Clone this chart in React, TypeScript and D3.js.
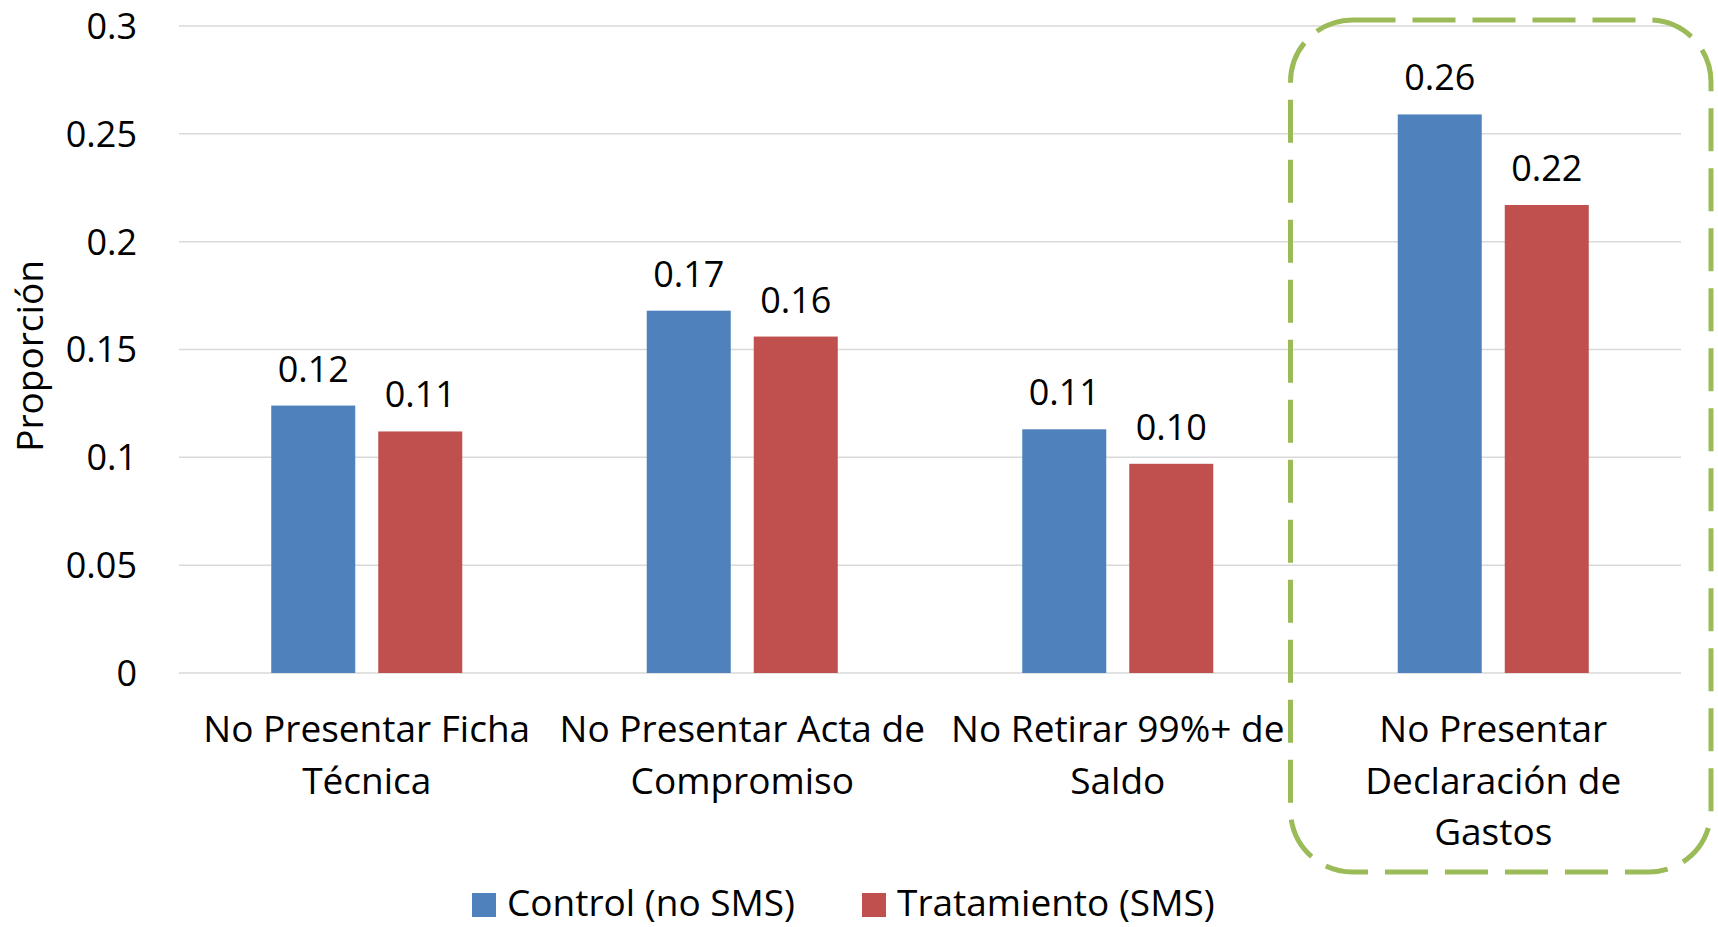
import React from 'react';
import * as d3 from 'd3';

const width = 1718;
const height = 927;

const margin = {
  top: 26,
  right: 37,
  bottom: 254,
  left: 179
};

// DATA ===========================================

const categories = [
  'No Presentar Ficha Técnica',
  'No Presentar Acta de Compromiso',
  'No Retirar 99%+ de Saldo',
  'No Presentar Declaración de Gastos'
];

// how the category labels wrap under the axis
const categoryLines = [
  ['No Presentar Ficha', 'Técnica'],
  ['No Presentar Acta de', 'Compromiso'],
  ['No Retirar 99%+ de', 'Saldo'],
  ['No Presentar', 'Declaración de', 'Gastos']
];

const seriesNames = ['Control (no SMS)', 'Tratamiento (SMS)'];
const controlValues = [0.124, 0.168, 0.113, 0.259];
const treatmentValues = [0.112, 0.156, 0.097, 0.217];

const yTicks = [0, 0.05, 0.1, 0.15, 0.2, 0.25, 0.3];
const yTickLabels = ['0', '0.05', '0.1', '0.15', '0.2', '0.25', '0.3'];

const highlighted = 'No Presentar Declaración de Gastos';

const colors = ['#4F81BD', '#C0504D'];
const font = "'Open Sans', 'Noto Sans', sans-serif";

const App = () => {
  const xScale = d3
    .scaleBand()
    .domain(categories)
    .range([margin.left, width - margin.right]);

  // two bars inside each category
  const innerScale = d3
    .scaleBand()
    .domain(seriesNames)
    .range([0, xScale.bandwidth()])
    .paddingInner(0.215)
    .paddingOuter(0.862);

  const yScale = d3
    .scaleLinear()
    .domain([0, 0.3])
    .range([height - margin.bottom, margin.top]);

  const fmt = d3.format('.2f');

  const bars = categories.flatMap((c, i) =>
    [controlValues[i], treatmentValues[i]].map((v, j) => ({
      key: c + j,
      x: xScale(c) + innerScale(seriesNames[j]),
      y: yScale(v),
      h: yScale(0) - yScale(v),
      fill: colors[j],
      label: fmt(v)
    }))
  );

  // dashed box around the last category
  const boxX = xScale(highlighted) - 15;
  const boxW = xScale.bandwidth() + 45;
  const boxY = margin.top - 6;
  const boxH = 852;

  const legendItems = [
    { name: seriesNames[0], x: 472, color: colors[0] },
    { name: seriesNames[1], x: 862, color: colors[1] }
  ];

  return (
    <svg
      width={width}
      height={height}
      style={{ position: 'absolute', left: 0, top: 0, background: '#fff' }}
      fontFamily={font}
    >
      {/* gridlines */}
      {yTicks.map(t => (
        <line
          key={t}
          x1={margin.left}
          x2={width - margin.right}
          y1={yScale(t)}
          y2={yScale(t)}
          stroke="#D9D9D9"
          strokeWidth={1.5}
        />
      ))}
      {yTicks.map((t, i) => (
        <text
          key={'l' + t}
          x={137}
          y={yScale(t)}
          dy="0.36em"
          textAnchor="end"
          fontSize={36}
          fill="#000"
        >
          {yTickLabels[i]}
        </text>
      ))}

      <text
        transform="translate(43, 356) rotate(-90)"
        textAnchor="middle"
        fontSize={37}
        fill="#000"
      >
        Proporción
      </text>

      {bars.map(b => (
        <g key={b.key}>
          <rect x={b.x} y={b.y} width={innerScale.bandwidth()} height={b.h} fill={b.fill} />
          <text
            x={b.x + innerScale.bandwidth() / 2}
            y={b.y - 24}
            textAnchor="middle"
            fontSize={36}
            fill="#000"
          >
            {b.label}
          </text>
        </g>
      ))}

      {categories.map((c, i) => (
        <text
          key={c}
          x={xScale(c) + xScale.bandwidth() / 2}
          y={742}
          textAnchor="middle"
          fontSize={37}
          fill="#000"
        >
          {categoryLines[i].map((line, k) => (
            <tspan key={k} x={xScale(c) + xScale.bandwidth() / 2} dy={k === 0 ? 0 : 51.5}>
              {line}
            </tspan>
          ))}
        </text>
      ))}

      <rect
        x={boxX}
        y={boxY}
        width={boxW}
        height={boxH}
        rx={62}
        ry={62}
        fill="none"
        stroke="#9BBB59"
        strokeWidth={5}
        strokeDasharray="43 17"
      />

      {/* legend, nudged up a little so the parentheses stay on the page */}
      {legendItems.map(l => (
        <g key={l.name}>
          <rect x={l.x} y={893} width={24} height={24} fill={l.color} />
          <text x={l.x + 35} y={916} fontSize={37} fill="#000">
            {l.name}
          </text>
        </g>
      ))}
    </svg>
  );
};

export default App;
